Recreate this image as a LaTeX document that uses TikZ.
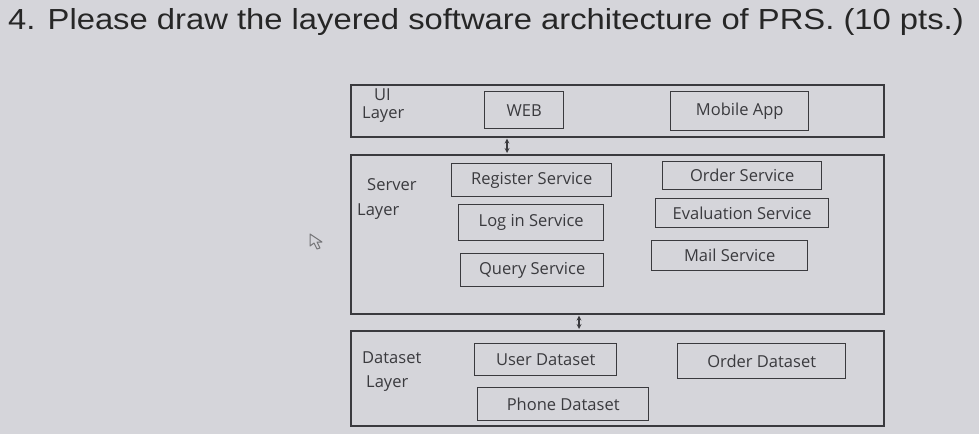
\documentclass[tikz,border=0pt]{standalone}
\usepackage{fontspec}
\setmainfont{Liberation Sans}
\newfontfamily\handfont{Open Sans}
\definecolor{bg}{HTML}{D5D5DA}
\definecolor{ink}{HTML}{3A3A3E}
\begin{document}
\begin{tikzpicture}[x=1pt,y=-1pt,
  lay/.style={draw=ink,line width=1.6pt,anchor=north west,inner sep=0pt},
  box/.style={draw=ink,line width=1.4pt,anchor=north west,inner sep=0pt,
     font=\handfont\fontsize{16.5}{18}\selectfont,text=ink},
  lbl/.style={font=\handfont\fontsize{16.5}{18}\selectfont,text=ink,align=left,anchor=north west,inner sep=0pt},
  conn/.style={<->,>=stealth,draw=ink,line width=1.2pt,shorten <=1pt,shorten >=1pt}]
\fill[bg] (0,0) rectangle (979,434);
\useasboundingbox (0,0) rectangle (979,434);
\node[anchor=west,inner sep=0pt,font=\fontsize{29}{32}\selectfont,text=black!85] (title) at (8,22) {\scalebox{1.13}[1]{4. Please draw the layered software architecture of PRS. (10 pts.)}};
% UI layer
\node[lay,minimum width=533,minimum height=52] (ui) at (350,84) {};
\node[lbl] (uil) at (362,89) {\hspace*{12pt}UI\\Layer};
\node[box,minimum width=79,minimum height=37] (web) at (484,91) {WEB};
\node[box,minimum width=138,minimum height=39] (mob) at (670,91) {Mobile App};
% Server layer
\node[lay,minimum width=533,minimum height=159] (srv) at (350,154) {};
\node[lbl] (srvl) at (357,178) {\hspace*{10pt}Server\\[7pt]Layer};
\node[box,minimum width=160,minimum height=33] (reg) at (451,163) {Register Service};
\node[box,minimum width=145,minimum height=36] (log) at (458,204) {Log in Service};
\node[box,minimum width=143,minimum height=33] (qry) at (460,253) {Query Service};
\node[box,minimum width=159,minimum height=28] (ord) at (662,161) {Order Service};
\node[box,minimum width=173,minimum height=29] (eva) at (655,198) {Evaluation Service};
\node[box,minimum width=156,minimum height=30] (mail) at (651,240) {Mail Service};
% Dataset layer
\node[lay,minimum width=533,minimum height=95] (dat) at (350,330) {};
\node[lbl] (datl) at (362,352) {Dataset\\[6pt]\hspace*{4pt}Layer};
\node[box,minimum width=142,minimum height=32] (usr) at (474,343) {User Dataset};
\node[box,minimum width=168,minimum height=35] (odat) at (677,343) {Order Dataset};
\node[box,minimum width=171,minimum height=33] (pdat) at (477,387) {Phone Dataset};
% connectors
\coordinate (c1) at (507,0);
\coordinate (c2) at (579,0);
\draw[conn] (c1 |- ui.south) -- (c1 |- srv.north);
\draw[conn] (c2 |- srv.south) -- (c2 |- dat.north);
% mouse cursor
\draw[ink!70,line width=1pt,line join=round] (310,234) -- (310,246) -- (314,243) -- (317,249) -- (320,248) -- (317,242) -- (322,242) -- cycle;
\end{tikzpicture}
\end{document}
